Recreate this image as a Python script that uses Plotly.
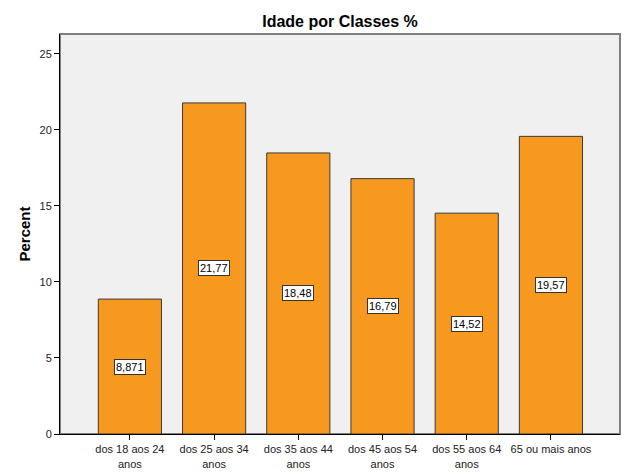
import plotly.graph_objects as go

categories = ["dos 18 aos 24<br>anos", "dos 25 aos 34<br>anos", "dos 35 aos 44<br>anos",
              "dos 45 aos 54<br>anos", "dos 55 aos 64<br>anos", "65 ou mais anos"]
values = [8.871, 21.77, 18.48, 16.79, 14.52, 19.57]
labels = ["8,871", "21,77", "18,48", "16,79", "14,52", "19,57"]
y_ticks = [0, 5, 10, 15, 20, 25]

FONT = "Liberation Sans, Arial, sans-serif"

fig = go.Figure()
fig.add_trace(go.Bar(
    x=categories, y=values, width=0.75,
    marker=dict(color="#F7991E", line=dict(color="#3a3a3a", width=1)),
    hoverinfo="skip",
))

for c, v, t in zip(categories, values, labels):
    fig.add_annotation(x=c, y=v / 2, text=t, showarrow=False,
                       font=dict(family=FONT, size=11, color="black"),
                       bgcolor="white", bordercolor="#333333", borderwidth=1, borderpad=1)

fig.add_shape(type="rect", xref="paper", yref="paper", x0=0, y0=0, x1=1, y1=1,
              line=dict(color="#7f7f7f", width=2), layer="below")

fig.update_layout(
    width=629, height=474,
    margin=dict(l=60, r=9, t=34, b=40),
    paper_bgcolor="white", plot_bgcolor="#F0F0F0",
    title=dict(text="<b>Idade por Classes %</b>", x=(60 + 620) / 2 / 629, xanchor="center",
               y=1 - 21 / 474, yanchor="middle",
               font=dict(family=FONT, size=16, color="black")),
    showlegend=False, bargap=0.25,
    font=dict(family=FONT, size=11, color="#222222"),
)
fig.update_xaxes(range=[-0.83, 5.82], showline=True, linecolor="black", linewidth=1,
                 ticks="outside", ticklen=5, tickcolor="black", showgrid=False,
                 automargin=False,
                 tickfont=dict(family=FONT, size=11, color="#222222"))
fig.update_yaxes(range=[0, 26.3], tickvals=y_ticks, showline=True, linecolor="black",
                 linewidth=1, ticks="outside", ticklen=5, tickcolor="black",
                 showgrid=False, zeroline=False, automargin=False,
                 title=dict(text="<b>Percent</b>", standoff=5,
                            font=dict(family=FONT, size=15, color="black")),
                 tickfont=dict(family=FONT, size=11, color="#222222"))

fig.write_html("out.html")
